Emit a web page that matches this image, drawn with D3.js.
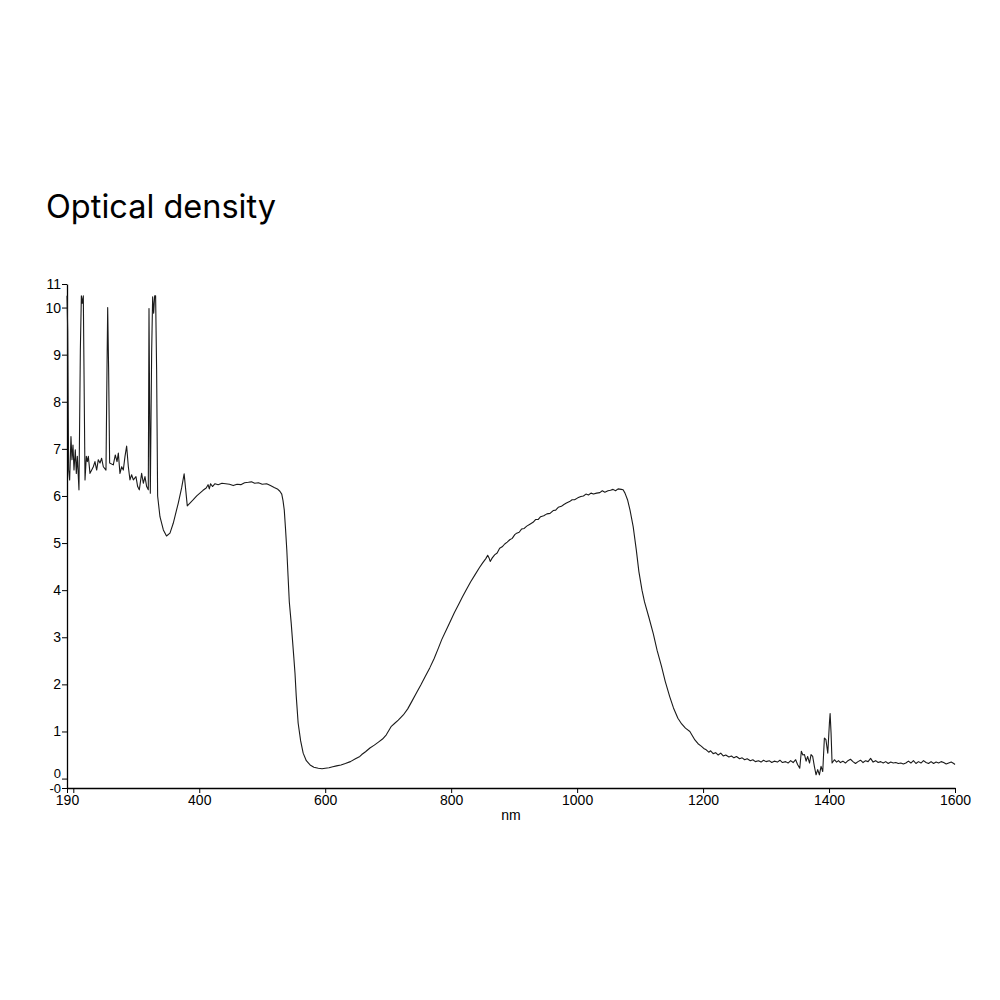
<!DOCTYPE html>
<html>
<head>
<meta charset="utf-8">
<script src="https://cdn.jsdelivr.net/npm/d3@7"></script>
<style>
  html, body { margin: 0; padding: 0; background: #fff; }
  svg { display: block; }
</style>
</head>
<body>
<svg id="chart" width="1000" height="1000"></svg>
<script>
// ---- Data (wavelength nm, optical density) ----
const uvRegion = [
  [190,10.25],[191.1,9.52],[192.6,6.55],[194.2,6.34],[196.3,7.26],[197.9,6.77],[199.5,7.08],
  [201.1,6.55],[203.2,6.98],[204.8,6.48],[206.4,6.84],[209,6.13],[211.2,9.1],[212.8,10.25],
  [214.3,10.09],[215.9,10.25],[218.6,6.34],[220.7,6.84],[222.3,6.73],[223.9,6.84],[226.5,6.48],
  [229.2,6.55],[231.8,6.62],[234.4,6.73],[237.1,6.55],[239.7,6.77],[242.4,6.70],[245,6.80],
  [247.7,6.62],[251.9,6.55],[253.5,8.68],[254.6,10.0],[256.1,8.68],[257.7,6.70],[263.5,6.66],
  [266.7,6.87],[269.4,6.73],[271.5,6.91],[274.1,6.48],[276.8,6.62],[279.4,6.55],[282.1,6.84],
  [284.7,7.06],[287.4,6.62],[290,6.34],[292.6,6.45],[295.3,6.34],[299.5,6.41],[302.2,6.20],
  [304.8,6.13],[308.5,6.48],[311.2,6.27],[313.8,6.41],[316.5,6.20],[319.1,6.13],[320.2,9.98],
  [321.2,7.97],[322.3,6.06],[324.4,9.04],[326,10.23],[327.6,9.88],[329.2,10.25],[330.7,10.25],
  [332.3,8.68],[333.9,6.0]
];
const visibleRegion = [
  [337.6,5.56],[343,5.28],[348,5.15],[353.5,5.21],[358.7,5.42],[366.7,5.85],[372,6.17],[376,6.47],
  [379,6.06],[381,5.79],[386,5.86],[390.5,5.92],[396,6.0],[401,6.06],[406,6.12],[411,6.17],
  [414,6.24],[416,6.15],[418,6.26],[421,6.2],[425,6.26],[430,6.24],[436,6.27],[442,6.26],
  [448,6.25],[454,6.22],[460,6.25],[466,6.24],[472,6.28],[478,6.29],[483,6.30],[488,6.27],
  [494,6.28],[500,6.25],[507,6.26],[513,6.22],[519,6.18],[524,6.15],[528,6.1],[531,6.04],
  [533,5.9],[535,5.7],[537,5.3],[539,4.86],[541,4.3],[543,3.75],[546,3.3],[548,2.95],[550,2.6],
  [552,2.24],[554,1.75],[557,1.18],[561,0.8],[565,0.54],[570,0.38],[576,0.29],[582,0.24],
  [589,0.22],[595,0.21],[600,0.22],[606,0.23],[612,0.25],[618,0.27],[625,0.29],[632,0.32],
  [640,0.36],[648,0.42],[655,0.47],[658,0.51],[664,0.57],[671,0.65],[678,0.71],[685,0.78],
  [691,0.84],[697,0.93],[701,1.02],[705,1.11],[710,1.17],[716,1.24],[724,1.35],[731,1.48],
  [738,1.65],[745,1.82],[752,1.99],[759,2.17],[766,2.35],[773,2.55],[780,2.78],[785,2.95]
];
const nirRegion = [
  [792,3.15],[798,3.32],[805,3.52],[812,3.7],[818,3.86],[824,4.01],[831,4.18],[838,4.33],
  [845,4.48],[850,4.58],[855,4.67],[858,4.74],[860,4.69],[862,4.61],[865,4.68],[869,4.75],
  [873,4.79],[877,4.89],[881,4.92],[885,4.98],[889,5.02],[893,5.07],[897,5.1],[901,5.18],
  [904,5.21],[908,5.23],[912,5.3],[916,5.31],[920,5.36],[925,5.40],[930,5.44],[934,5.50],
  [938,5.50],[942,5.56],[947,5.58],[952,5.62],[957,5.63],[962,5.69],[966,5.70],[970,5.76],
  [975,5.78],[979,5.82],[983,5.85],[988,5.88],[992,5.92],[996,5.92],[1001,5.96],[1006,5.99],
  [1010,6.0],[1014,6.04],[1018,6.02],[1022,6.06],[1026,6.04],[1031,6.06],[1036,6.07],
  [1040,6.11],[1044,6.08],[1049,6.11],[1053,6.12],[1057,6.14],[1061,6.11],[1065,6.15],
  [1070,6.14],[1073,6.13],[1076,6.06],[1080,5.92],[1084,5.70],[1089,5.35],[1094,4.85],
  [1098,4.4],[1103,4.0],[1107,3.75],[1114,3.42],[1121,3.07],[1127,2.72],[1134,2.38],
  [1140,2.06],[1147,1.74],[1153,1.5],[1160,1.28],[1166,1.16],[1172,1.07],[1179,1.0],
  [1183,0.91],[1187,0.82],[1192,0.74],[1197,0.69],[1201,0.64],[1205,0.61],[1209,0.56],
  [1212,0.59],[1216,0.53],[1220,0.55],[1224,0.50],[1228,0.54],[1232,0.48],[1236,0.50],
  [1241,0.46],[1245,0.48],[1249,0.44],[1253,0.47],[1258,0.42],[1262,0.44],[1266,0.40],
  [1270,0.42],[1275,0.38],[1279,0.40],[1283,0.36],[1288,0.38],[1292,0.35],[1296,0.39],
  [1300,0.36],[1305,0.38],[1309,0.34],[1313,0.37],[1318,0.35],[1322,0.39],[1326,0.34],
  [1331,0.36],[1335,0.33],[1339,0.38],[1343,0.34],[1347,0.40],[1350,0.30],[1353.5,0.22],
  [1356,0.58],[1358.5,0.50],[1361,0.51],[1363.6,0.37],[1366,0.47],[1369,0.33],[1371.4,0.51],
  [1374,0.47],[1376.7,0.26],[1379.4,0.08],[1382,0.19],[1384.7,0.08],[1387.3,0.26],[1390,0.15],
  [1392.6,0.86],[1395,0.83],[1398,0.54],[1400.6,1.18],[1401.7,1.38],[1403.2,0.97],[1404.8,0.33],
  [1408.5,0.40],[1412,0.35],[1415,0.38],[1418,0.34],[1422,0.37],[1426,0.33],[1430,0.38],
  [1434,0.41],[1438,0.36],[1442,0.32],[1446,0.36],[1450,0.39],[1454,0.34],[1458,0.38],
  [1462,0.36],[1466,0.43],[1470,0.35],[1474,0.38],[1478,0.34],[1482,0.36],[1486,0.33],
  [1490,0.36],[1494,0.32],[1498,0.35],[1502,0.33],[1506,0.34],[1510,0.32],[1514,0.33],
  [1518,0.31],[1522,0.33],[1526,0.37],[1530,0.33],[1534,0.38],[1538,0.32],[1542,0.36],
  [1546,0.33],[1550,0.38],[1554,0.34],[1558,0.32],[1562,0.36],[1566,0.32],[1570,0.35],
  [1574,0.33],[1578,0.36],[1582,0.34],[1586,0.31],[1590,0.33],[1594,0.35],[1598,0.32],[1600,0.30]
];
const xTickValues = [190, 200, 400, 600, 800, 1000, 1200, 1400, 1600];
const xTickLabels = ["190", "", "400", "600", "800", "1000", "1200", "1400", "1600"];
const yTickValues = [-0.2, 0, 1, 2, 3, 4, 5, 6, 7, 8, 9, 10, 10.5];
const yTickLabels = ["-0", "0", "1", "2", "3", "4", "5", "6", "7", "8", "9", "10", "11"];
const titleText = "Optical density";
const xAxisTitle = "nm";

// ---- Chart ----
const svg = d3.select("#chart");
const x = d3.scaleLinear().domain([190, 1600]).range([67, 955]);
const y = d3.scaleLinear().domain([-0.2, 10.5]).range([788, 284]);

svg.append("text")
  .attr("x", 46).attr("y", 218)
  .attr("font-family", "Inter, 'Noto Sans', sans-serif")
  .attr("font-size", 32.5)
  .attr("fill", "#000")
  .text(titleText);

const xAxis = d3.axisBottom(x)
  .tickValues(xTickValues)
  .tickFormat((d, i) => xTickLabels[i])
  .tickSize(5).tickSizeOuter(0).tickPadding(2);
const gx = svg.append("g").attr("transform", "translate(0,788)").call(xAxis);

const yAxis = d3.axisLeft(y)
  .tickValues(yTickValues)
  .tickFormat((d, i) => yTickLabels[i])
  .tickSize(5).tickSizeOuter(0).tickPadding(1);
const gy = svg.append("g").attr("transform", "translate(67,0)").call(yAxis);

[gx, gy].forEach(g => {
  g.selectAll("path.domain").attr("stroke", "#000").attr("stroke-width", 1.3);
  g.selectAll(".tick line").attr("stroke", "#000").attr("stroke-width", 1);
  g.selectAll(".tick text")
    .attr("fill", "#000")
    .attr("font-family", "'Liberation Sans', Arial, sans-serif")
    .attr("font-size", 14);
});
// the crowded bottom labels: "0" sits just above its tick, "-0" is a touch smaller
gy.selectAll(".tick text").filter(d => d === 0).attr("y", -5).attr("font-size", 13);
gy.selectAll(".tick text").filter(d => d === -0.2).attr("y", 0).attr("font-size", 13);

svg.append("text")
  .attr("x", x(895)).attr("y", 820)
  .attr("text-anchor", "middle")
  .attr("font-family", "'Liberation Sans', Arial, sans-serif")
  .attr("font-size", 14)
  .attr("fill", "#000")
  .text(xAxisTitle);

const line = d3.line().x(d => x(d[0])).y(d => y(d[1]));
const spectrum = uvRegion.concat(visibleRegion, nirRegion);
svg.append("path")
  .datum(spectrum)
  .attr("fill", "none")
  .attr("stroke", "#1a1a1a")
  .attr("stroke-width", 1.1)
  .attr("stroke-linejoin", "round")
  .attr("d", line);
</script>
</body>
</html>
